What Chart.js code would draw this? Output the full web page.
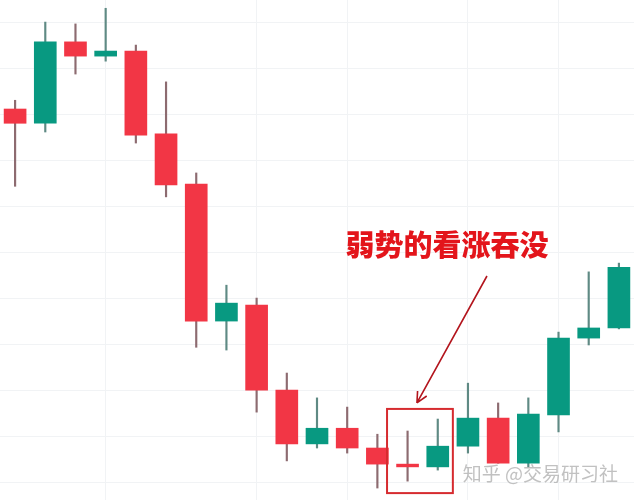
<!DOCTYPE html>
<html>
<head>
<meta charset="utf-8">
<script src="https://cdn.jsdelivr.net/npm/chart.js@4/dist/chart.umd.min.js"></script>
<style>
  html, body { margin: 0; padding: 0; background: #ffffff; }
  #wrap { width: 634px; height: 500px; position: relative; }
</style>
</head>
<body>
<div id="wrap"><canvas id="kline"></canvas></div>
<script>
// candles (price units: one grid row = 10)
const candleLabels = ['1','2','3','4','5','6','7','8','9','10','11','12','13','14','15','16','17','18','19','20','21'];
const opens  = [181.1, 178.0, 195.7, 192.6, 193.7, 175.7, 164.8, 135.0, 138.5, 120.0, 108.3, 111.7, 107.4, 103.9, 103.3, 107.8, 113.9, 104.1, 114.6, 131.3, 133.5];
const highs  = [183.0, 200.0, 199.6, 203.0, 195.0, 187.0, 167.2, 142.8, 140.0, 123.7, 118.3, 116.3, 110.4, 111.1, 113.7, 121.5, 117.2, 118.3, 132.6, 145.7, 147.6];
const lows   = [164.3, 176.1, 188.7, 191.5, 173.7, 162.0, 129.3, 128.7, 115.2, 104.6, 107.4, 106.3,  98.7, 100.2, 102.6, 106.3, 104.1, 103.3, 110.9, 129.8, 133.3];
const closes = [178.0, 195.7, 192.6, 193.7, 175.4, 164.6, 135.0, 138.9, 120.0, 108.3, 111.7, 107.4, 103.9, 103.3, 107.8, 113.9, 104.1, 114.8, 131.3, 133.5, 146.7];

const priceMin = 96.1;
const priceMax = 204.8;
const priceStep = 10;
// time grid lines only sit under a few candles
const timeGridAt = [3, 8, 11, 15, 18];

// annotation, in data units (candle index, price)
const noteText = '弱势的看涨吞没';
const notePos = [14.31, 151.5];
const arrowFrom = [15.63, 144.8];
const arrowTo = [13.31, 117.2];
const boxFrom = [12.32, 115.9];
const boxTo = [14.5, 97.6];
const watermark = '知乎 @交易研习社';

const UP = '#089981';
const DOWN = '#f23645';
const UP_WICK = '#5f8a84';
const DOWN_WICK = '#8d6b70';
const GRID = '#f1f3f5';

const isUp = opens.map((o, i) => closes[i] >= o);

const annotate = {
    id: 'annotate',
    afterDatasetsDraw(chart) {
        const { ctx, scales: { x, y }, chartArea } = chart;
        const px = p => [x.getPixelForValue(p[0]), y.getPixelForValue(p[1])];

        ctx.save();

        // box round the pattern
        const [bx1, by1] = px(boxFrom);
        const [bx2, by2] = px(boxTo);
        ctx.strokeStyle = '#d62b2f';
        ctx.lineWidth = 2;
        ctx.strokeRect(bx1, by1, bx2 - bx1, by2 - by1);

        // arrow
        const [ax1, ay1] = px(arrowFrom);
        const [ax2, ay2] = px(arrowTo);
        ctx.strokeStyle = '#b3151d';
        ctx.lineWidth = 1.6;
        ctx.beginPath();
        ctx.moveTo(ax1, ay1);
        ctx.lineTo(ax2, ay2);
        const ang = Math.atan2(ay2 - ay1, ax2 - ax1);
        const head = 12;
        ctx.moveTo(ax2, ay2);
        ctx.lineTo(ax2 - head * Math.cos(ang - 0.45), ay2 - head * Math.sin(ang - 0.45));
        ctx.moveTo(ax2, ay2);
        ctx.lineTo(ax2 - head * Math.cos(ang + 0.45), ay2 - head * Math.sin(ang + 0.45));
        ctx.stroke();

        // label
        const [tx, ty] = px(notePos);
        ctx.fillStyle = '#e3151b';
        ctx.font = '900 29px "Noto Sans CJK SC"';
        ctx.textAlign = 'center';
        ctx.textBaseline = 'middle';
        ctx.fillText(noteText, tx, ty);

        // watermark
        ctx.fillStyle = 'rgba(160, 160, 160, 0.65)';
        ctx.font = '19px "Noto Sans CJK SC"';
        ctx.textAlign = 'right';
        ctx.textBaseline = 'alphabetic';
        ctx.fillText(watermark, chartArea.right - 16, chartArea.bottom - 19);

        ctx.restore();
    }
};

new Chart(document.getElementById('kline'), {
    type: 'bar',
    data: {
        labels: candleLabels,
        datasets: [
            {
                // bodies
                data: opens.map((o, i) => [o, closes[i]]),
                backgroundColor: isUp.map(u => u ? UP : DOWN),
                barThickness: 22,
                grouped: false,
                order: 0
            },
            {
                // wicks
                data: lows.map((l, i) => [l, highs[i]]),
                backgroundColor: isUp.map(u => u ? UP_WICK : DOWN_WICK),
                barThickness: 1.5,
                grouped: false,
                order: 1
            }
        ]
    },
    options: {
        responsive: true,
        maintainAspectRatio: false,
        animation: false,
        layout: { padding: 0 },
        plugins: {
            legend: { display: false },
            tooltip: { enabled: false }
        },
        scales: {
            x: {
                offset: true,
                border: { display: false },
                ticks: { display: false },
                grid: {
                    offset: false,
                    drawTicks: false,
                    color: c => timeGridAt.includes(c.index) ? GRID : 'rgba(0,0,0,0)'
                }
            },
            y: {
                min: priceMin,
                max: priceMax,
                border: { display: false },
                ticks: { display: false, stepSize: priceStep },
                grid: {
                    drawTicks: false,
                    color: c => (c.tick && Math.abs(c.tick.value % priceStep) < 1e-6) ? GRID : 'rgba(0,0,0,0)'
                }
            }
        }
    },
    plugins: [annotate]
});
</script>
</body>
</html>
